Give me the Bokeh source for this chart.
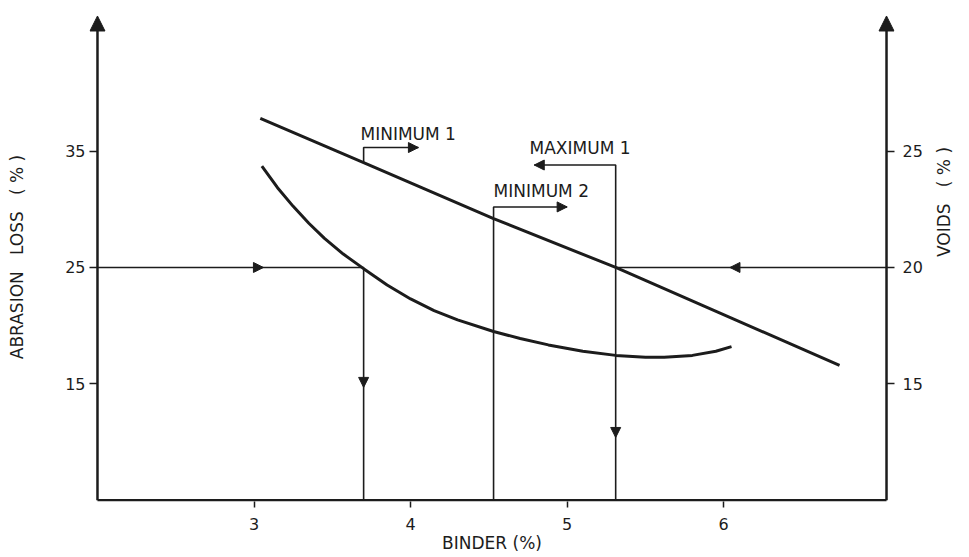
import math
from bokeh.plotting import figure
from bokeh.models import Range1d, LinearAxis, FixedTicker, Arrow, NormalHead, Label
from bokeh.embed import file_html
from bokeh.resources import INLINE

# ---- data ----
binder_curve = [3.05, 3.15, 3.25, 3.35, 3.45, 3.57, 3.70, 3.85, 4.00, 4.15, 4.30, 4.53,
                4.70, 4.88, 5.10, 5.31, 5.50, 5.62, 5.80, 5.95, 6.05]
abrasion_loss = [33.7, 31.85, 30.25, 28.8, 27.5, 26.15, 24.9, 23.5, 22.3, 21.3, 20.5, 19.5,
                 18.9, 18.35, 17.8, 17.45, 17.3, 17.3, 17.45, 17.8, 18.2]

binder_line = [3.04, 3.70, 4.53, 5.31, 6.74]
voids = [26.4, 24.5, 22.1, 20.0, 15.8]

x_ticks = [3, 4, 5, 6]
left_ticks = [15, 25, 35]
right_ticks = [15, 20, 25]

x_min, x_max = 2.0, 7.04          # binder axis span
abr_min, abr_max = 5.0, 46.6      # abrasion axis span (arrow tip at top)

abrasion_target = 25.0
voids_target = 20.0
min1_x = 3.70
min2_x = 4.53
max1_x = 5.31
min1_top = 35.3
min2_top = 30.2
max1_top = 33.8
min1_arrow_x = 4.05
min2_arrow_x = 5.0
max1_arrow_x = 4.79

def to_voids(a):
    return 20 + (a - 25) / 2

INK = "#1c1c1c"
FONT = "DejaVu Sans"
NB = "\u00a0"

W, H = 966, 556
x_pad = 0.051
y_lo, y_hi = 4.9, 46.9
p = figure(width=W, height=H, output_backend="svg", toolbar_location=None,
           x_range=Range1d(x_min - x_pad, x_max + x_pad), y_range=Range1d(y_lo, y_hi),
           min_border_left=89, min_border_right=72, min_border_top=12,
           min_border_bottom=55)
p.extra_y_ranges = {"voids": Range1d(to_voids(y_lo), to_voids(y_hi))}
p.xgrid.visible = False
p.ygrid.visible = False
p.outline_line_color = None
p.background_fill_color = "white"
p.border_fill_color = "white"

def style_axis(ax, ticks, tick_in, tick_out, standoff):
    ax.ticker = FixedTicker(ticks=ticks)
    ax.minor_tick_line_color = None
    ax.major_tick_in = tick_in
    ax.major_tick_out = tick_out
    ax.major_tick_line_color = INK
    ax.major_tick_line_width = 1.5
    ax.axis_line_color = None
    ax.major_label_text_font = FONT
    ax.major_label_text_font_size = "16px"
    ax.major_label_text_color = INK
    ax.major_label_standoff = standoff
    ax.axis_label_text_font = FONT
    ax.axis_label_text_font_size = "17px"
    ax.axis_label_text_font_style = "normal"
    ax.axis_label_text_color = INK

xa = p.xaxis[0]
style_axis(xa, x_ticks, 0, 6, 10)
xa.axis_label = "BINDER (%)"
xa.axis_label_standoff = 0

ya = p.yaxis[0]
style_axis(ya, left_ticks, 8, 0, 4)
ya.axis_label = "ABRASION" + NB * 3 + "LOSS" + NB * 3 + "(" + NB + "%" + NB + ")"
ya.axis_label_standoff = 35

ra = LinearAxis(y_range_name="voids")
style_axis(ra, right_ticks, 8, 0, 8)
ra.axis_label = "VOIDS" + NB * 3 + "(" + NB + "%" + NB + ")"
ra.axis_label_standoff = 18
try:
    ra.axis_label_orientation = math.pi / 2
except Exception:
    pass
p.add_layout(ra, "right")

# axis lines with arrowheads
AX = dict(line_color=INK, line_width=2.5)
p.line([x_min, x_min], [abr_min, abr_max - 1], **AX)
p.line([x_max, x_max], [abr_min, abr_max - 1], **AX)
p.line([x_min, x_max], [abr_min, abr_min], **AX)
for ax_x in (x_min, x_max):
    p.add_layout(Arrow(end=NormalHead(size=15, fill_color=INK, line_color=INK, line_width=1),
                       x_start=ax_x, y_start=abr_max - 1, x_end=ax_x, y_end=abr_max,
                       line_color=None))

# curves
p.line(binder_curve, abrasion_loss, line_color=INK, line_width=3)
p.line(binder_line, voids, line_color=INK, line_width=3, y_range_name="voids")

GL = dict(line_color=INK, line_width=1.6)
p.line([x_min, min1_x, min1_x], [abrasion_target, abrasion_target, abr_min], **GL)
p.line([x_max, max1_x], [voids_target, voids_target], y_range_name="voids", **GL)
p.line([max1_x, max1_x, max1_arrow_x], [abr_min, max1_top, max1_top], **GL)
p.line([min2_x, min2_x, min2_arrow_x], [abr_min, min2_top, min2_top], **GL)
min1_start = 25 + 2 * (voids[1] - 20)
p.line([min1_x, min1_x, min1_arrow_x], [min1_start, min1_top, min1_top], **GL)

def head(x0, y0, x1, y1, rng="default"):
    p.add_layout(Arrow(end=NormalHead(size=10, fill_color=INK, line_color=INK, line_width=1),
                       x_start=x0, y_start=y0, x_end=x1, y_end=y1, line_color=None,
                       y_range_name=rng))

head(2.9, abrasion_target, 3.06, abrasion_target)
head(min1_x, 16.0, min1_x, 14.7)
head(max1_x, 11.8, max1_x, 10.4)
head(6.2, voids_target, 6.04, voids_target, "voids")
head(min1_arrow_x - 0.1, min1_top, min1_arrow_x, min1_top)
head(min2_arrow_x - 0.1, min2_top, min2_arrow_x, min2_top)
head(max1_arrow_x + 0.1, max1_top, max1_arrow_x, max1_top)

def note(x, y, t):
    p.add_layout(Label(x=x, y=y, text=t, text_align="left", text_baseline="middle",
                       text_font=FONT, text_font_size="17px", text_color=INK))

note(3.68, 36.5, "MINIMUM 1")
note(4.53, 31.6, "MINIMUM 2")
note(4.76, 35.3, "MAXIMUM 1")

open("out.html", "w").write(file_html(p, INLINE))
